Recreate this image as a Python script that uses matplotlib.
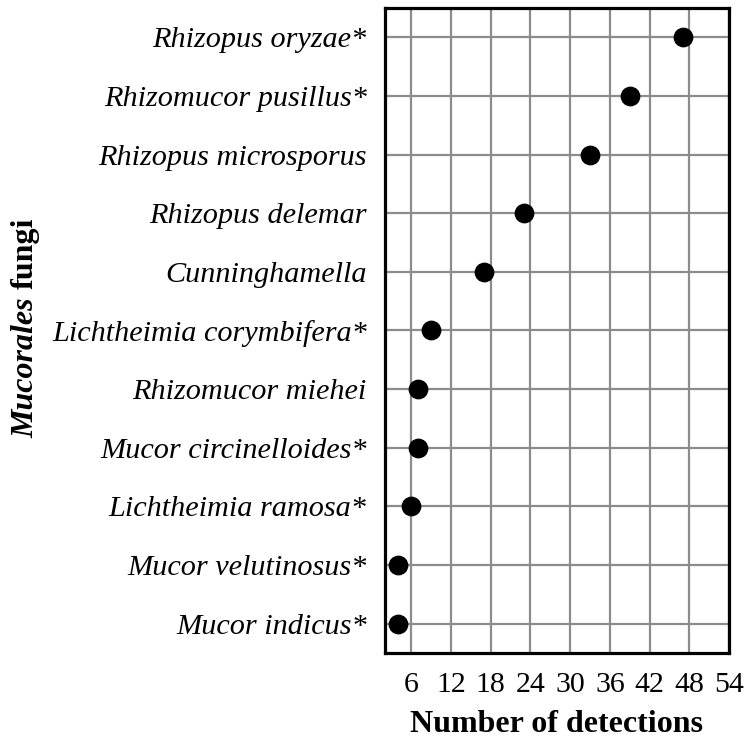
import matplotlib
matplotlib.use("Agg")
import matplotlib.pyplot as plt

# Datos (de arriba hacia abajo)
especies = [
    "Rhizopus oryzae*",
    "Rhizomucor pusillus*",
    "Rhizopus microsporus",
    "Rhizopus delemar",
    "Cunninghamella",
    "Lichtheimia corymbifera*",
    "Rhizomucor miehei",
    "Mucor circinelloides*",
    "Lichtheimia ramosa*",
    "Mucor velutinosus*",
    "Mucor indicus*",
]
detecciones = [47, 39, 33, 23, 17, 9, 7, 7, 6, 4, 4]
ticks_x = [6, 12, 18, 24, 30, 36, 42, 48, 54]

plt.rcParams["font.family"] = ["Liberation Serif", "DejaVu Serif"]

fig = plt.figure(figsize=(7.5, 7.4), dpi=100)
ax = fig.add_axes([0.513, 0.1176, 0.459, 0.8716])

y = list(range(len(especies)))[::-1]
ax.scatter(detecciones, y, s=175, color="black", zorder=3, clip_on=False)

ax.set_xlim(2, 54)
ax.set_ylim(-0.5, len(especies) - 0.5)
ax.set_xticks(ticks_x)
ax.set_yticks(y)
ax.set_yticklabels(especies, fontstyle="italic", fontsize=21.8)
ax.tick_params(axis="x", labelsize=21.5, length=0, pad=14)
ax.tick_params(axis="y", length=0, pad=13)

ax.grid(True, color="#8c8c8c", linewidth=1.6)
ax.set_axisbelow(True)
for s in ax.spines.values():
    s.set_linewidth(2.3)
    s.set_color("black")

ax.set_xlabel("Number of detections", fontsize=23, fontweight="bold", labelpad=8)

# Etiqueta del eje y en dos partes (cursiva + normal)
t1 = fig.text(0.034, 1 - 438 / 740, "Mucorales", rotation=90, fontsize=23,
              fontweight="bold", fontstyle="italic", ha="center", va="bottom")
fig.canvas.draw()
bb = t1.get_window_extent()
y2 = (bb.y1 + 8) / fig.bbox.height
fig.text(0.034, y2, "fungi", rotation=90, fontsize=23,
         fontweight="bold", ha="center", va="bottom")

fig.savefig("out.png", dpi=100)
